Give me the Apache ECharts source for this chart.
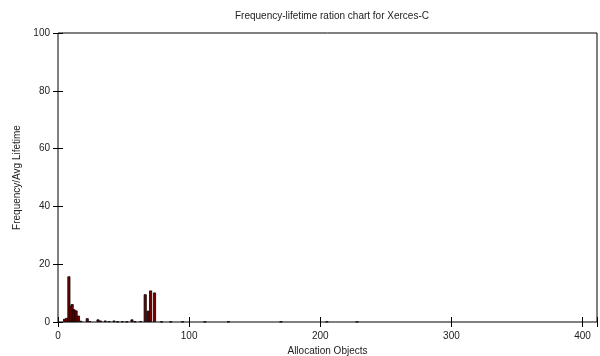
<!DOCTYPE html>
<html>
<head>
<meta charset="utf-8">
<script src="https://cdn.jsdelivr.net/npm/echarts@6/dist/echarts.min.js"></script>
<style>
  html, body { margin: 0; padding: 0; background: #fff; }
  #chart { width: 600px; height: 356px; }
</style>
</head>
<body>
<div id="chart"></div>
<script>
// allocation object index and its frequency / avg lifetime ratio
const objects = [5, 6.6, 8.3, 9.5, 10.8, 12.2, 13.8, 15.6, 17.4, 22.3, 24.2, 30.5, 32.4, 36, 39, 42.7, 45.5, 49, 52.5, 56.4, 58.7, 63, 66.5, 68.6, 70.6, 73.6, 79, 86, 95, 112, 130, 170, 205, 228];
const ratios  = [1.1, 1.4, 15.8, 5.6, 6.2, 4.4, 4.0, 2.2, 0.4, 1.3, 0.3, 0.9, 0.5, 0.5, 0.3, 0.5, 0.15, 0.2, 0.15, 0.9, 0.2, 0.3, 9.6, 3.9, 10.9, 10.2, 0.1, 0.1, 0.1, 0.1, 0.1, 0.1, 0.1, 0.1];

const xTicks = [0, 100, 200, 300, 400];
const yTicks = [0, 20, 40, 60, 80, 100];

const chart = echarts.init(document.getElementById('chart'));

const font = 'Liberation Sans, Arial, sans-serif';
const textColor = '#222';

const barData = objects.map((x, i) => [x, ratios[i]]);

chart.setOption({
  animation: false,
  title: {
    text: 'Frequency-lifetime ration chart for Xerces-C',
    left: 230,
    top: 6,
    textStyle: { fontSize: 10, fontWeight: 'normal', color: textColor, fontFamily: font }
  },
  grid: {
    left: 58, right: 3, top: 33, bottom: 34,
    outerBoundsMode: 'none',
    show: true, borderColor: '#000', borderWidth: 1, backgroundColor: 'transparent'
  },
  xAxis: [
    {
      type: 'value', min: 0, max: 411, interval: 100,
      name: 'Allocation Objects', nameLocation: 'middle', nameGap: 23,
      nameTextStyle: { fontSize: 10, color: textColor, fontFamily: font },
      axisLine: { show: false },
      axisTick: { inside: true, length: 5, lineStyle: { color: '#000' } },
      axisLabel: {
        fontSize: 10, color: textColor, fontFamily: font, margin: 9,
        formatter: v => (xTicks.includes(v) ? String(v) : '')
      },
      splitLine: { show: false }
    },
    {
      type: 'value', min: 0, max: 411, interval: 100, position: 'top',
      axisLine: { show: false },
      axisTick: { inside: true, length: 5, lineStyle: { color: '#000' } },
      axisLabel: { show: false },
      splitLine: { show: false }
    }
  ],
  yAxis: [
    {
      type: 'value', min: 0, max: 100, interval: 20,
      name: 'Frequency/Avg Lifetime', nameLocation: 'middle', nameGap: 36,
      nameTextStyle: { fontSize: 10, color: textColor, fontFamily: font },
      axisLine: { show: false },
      axisTick: { inside: true, length: 5, lineStyle: { color: '#000' } },
      axisLabel: {
        fontSize: 10, color: textColor, fontFamily: font, margin: 8,
        formatter: v => (yTicks.includes(v) ? String(v) : '')
      },
      splitLine: { show: false }
    },
    {
      type: 'value', min: 0, max: 100, interval: 20, position: 'right',
      axisLine: { show: false },
      axisTick: { inside: true, length: 5, lineStyle: { color: '#000' } },
      axisLabel: { show: false },
      splitLine: { show: false }
    }
  ],
  series: [
    {
      type: 'bar',
      xAxisIndex: 0,
      yAxisIndex: 0,
      barWidth: 3,
      itemStyle: { color: '#7a0000', borderColor: '#000', borderWidth: 0.8 },
      data: barData
    }
  ]
});
</script>
</body>
</html>
